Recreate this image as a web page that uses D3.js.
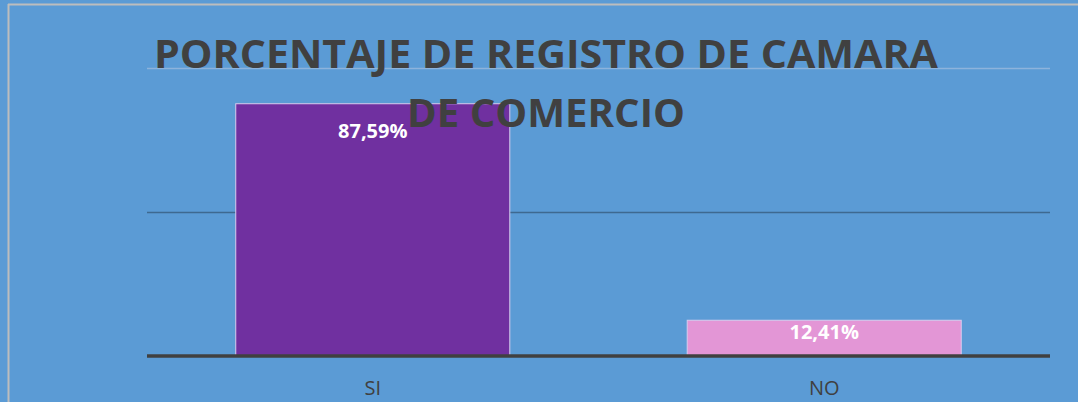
<!DOCTYPE html>
<html>
<head>
<meta charset="utf-8">
<script src="https://cdn.jsdelivr.net/npm/d3@7"></script>
<style>
  html, body { margin: 0; padding: 0; background: #5B9BD5; }
  svg { display: block; }
</style>
</head>
<body>
<script>
// ---- Data ----
const categories = ["SI", "NO"];
const values = [0.8759, 0.1241];
const valueLabels = ["87,59%", "12,41%"];
const barColors = ["#7030A0", "#E396D6"];
const gridTicks = [0, 0.5, 1.0];
const titleLines = ["PORCENTAJE DE REGISTRO DE CAMARA", "DE COMERCIO"];

const W = 1078, H = 402;
const svg = d3.select("body").append("svg").attr("width", W).attr("height", H);

// background + border
svg.append("rect").attr("x", 0).attr("y", 0).attr("width", W).attr("height", H).attr("fill", "#5B9BD5");
svg.append("line").attr("x1", 8).attr("x2", W).attr("y1", 4.5).attr("y2", 4.5).attr("stroke", "#BDBDBD").attr("stroke-width", 2);
svg.append("line").attr("x1", 8.5).attr("x2", 8.5).attr("y1", 4).attr("y2", H).attr("stroke", "#BDBDBD").attr("stroke-width", 2);

const plot = { left: 147, right: 1050, top: 68, bottom: 356 };

const x = d3.scaleBand().domain(categories).range([plot.left, plot.right]).paddingInner(0.393).paddingOuter(0.1966);
const y = d3.scaleLinear().domain([0, 1]).range([plot.bottom, plot.top]);

// gridlines
svg.append("g").selectAll("line").data(gridTicks.filter(d => d > 0)).join("line")
  .attr("x1", plot.left).attr("x2", plot.right)
  .attr("y1", d => Math.round(y(d)) + 0.5).attr("y2", d => Math.round(y(d)) + 0.5)
  .attr("stroke", d => d === 1 ? "#8DB3DC" : "#3E6990")
  .attr("stroke-width", 1.5);

// bars
svg.append("g").selectAll("rect").data(categories).join("rect")
  .attr("x", d => x(d))
  .attr("y", (d, i) => y(values[i]))
  .attr("width", x.bandwidth())
  .attr("height", (d, i) => y(0) - y(values[i]))
  .attr("fill", (d, i) => barColors[i])
  .attr("stroke", "#D8CCEE")
  .attr("stroke-width", 1);

// baseline axis
svg.append("line").attr("x1", plot.left).attr("x2", plot.right)
  .attr("y1", y(0)).attr("y2", y(0)).attr("stroke", "#404040").attr("stroke-width", 3.5);

// category labels
const xAxis = d3.axisBottom(x).tickSize(0).tickPadding(0);
const gx = svg.append("g").attr("transform", `translate(0,${plot.bottom})`).call(xAxis);
gx.select(".domain").remove();
gx.selectAll("text")
  .attr("dy", null)
  .attr("y", 39)
  .attr("font-family", "'Open Sans', sans-serif")
  .attr("font-size", 20)
  .attr("fill", "#404040");

// value labels
svg.append("g").selectAll("text").data(categories).join("text")
  .attr("x", d => x(d) + x.bandwidth() / 2)
  .attr("y", (d, i) => Math.min(y(values[i]) + 34, (y(values[i]) + y(0)) / 2 + 1))
  .attr("text-anchor", "middle")
  .attr("font-family", "'Open Sans', sans-serif")
  .attr("font-weight", "bold")
  .attr("font-size", 20)
  .attr("fill", "#FFFFFF")
  .text((d, i) => valueLabels[i]);

// title
const titleWidths = [784, 278];
svg.append("g").selectAll("text").data(titleLines).join("text")
  .attr("x", 546)
  .attr("y", (d, i) => 68 + i * 59)
  .attr("text-anchor", "middle")
  .attr("font-family", "'Open Sans', sans-serif")
  .attr("font-weight", "bold")
  .attr("font-size", 40)
  .attr("fill", "#404040")
  .attr("textLength", (d, i) => titleWidths[i])
  .attr("lengthAdjust", "spacingAndGlyphs")
  .text(d => d);
</script>
</body>
</html>
